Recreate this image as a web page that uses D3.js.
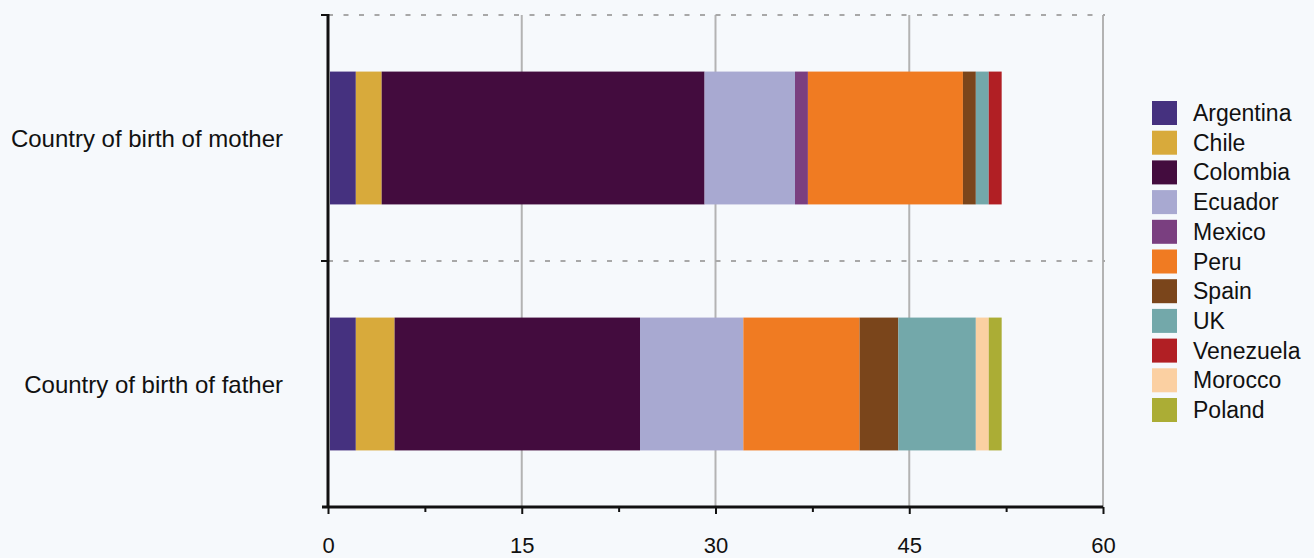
<!DOCTYPE html>
<html>
<head>
<meta charset="utf-8">
<script src="https://cdn.jsdelivr.net/npm/d3@7"></script>
<style>
  body { margin: 0; background: #f6f9fc; }
  text { font-family: "Liberation Sans", Arial, sans-serif; fill: #111; }
</style>
</head>
<body>
<script>
// data
var categories = ["Country of birth of mother", "Country of birth of father"]
var countries = ["Argentina", "Chile", "Colombia", "Ecuador", "Mexico", "Peru", "Spain", "UK", "Venezuela", "Morocco", "Poland"]
var motherValues = [2, 2, 25, 7, 1, 12, 1, 1, 1, 0, 0]
var fatherValues = [2, 3, 19, 8, 0, 9, 3, 6, 0, 1, 1]
var colours = ["#45317f", "#d8aa3b", "#430c3e", "#a8a9d1", "#7a3f80", "#f07b22", "#7a451b", "#73a8aa", "#b11f24", "#fbd0a2", "#abad35"]
var xTicks = [0, 15, 30, 45, 60]

var svg = d3.select("body").append("svg")
  .attr("width", 1314)
  .attr("height", 558)

var plotL = 328, plotR = 1103, plotT = 15, plotB = 507

var x = d3.scaleLinear().domain([0, 60]).range([plotL, plotR])
var y = d3.scaleBand().domain(categories).range([plotT, plotB])
  .paddingInner(0.46).paddingOuter(0.23)

// table for the stack
var table = categories.map(function(c, i) {
  var row = {cat: c}
  var vals = i === 0 ? motherValues : fatherValues
  countries.forEach(function(k, j) { row[k] = vals[j] })
  return row
})
var series = d3.stack().keys(countries)(table)

// vertical grid
svg.append("g").selectAll("line")
  .data(xTicks.slice(1))
  .enter().append("line")
  .attr("x1", function(d) { return x(d) })
  .attr("x2", function(d) { return x(d) })
  .attr("y1", plotT)
  .attr("y2", plotB)
  .style("stroke", "#b3b3b3")
  .style("stroke-width", 2)

// dotted category boundaries
var step = y.step()
var bounds = [plotT, plotT + step]
svg.append("g").selectAll("line")
  .data(bounds)
  .enter().append("line")
  .attr("x1", plotL)
  .attr("x2", plotR + 2)
  .attr("y1", function(d) { return d })
  .attr("y2", function(d) { return d })
  .style("stroke", "#a8a8a8")
  .style("stroke-width", 2)
  .style("stroke-dasharray", "5,10.5")

// bars
svg.append("g").selectAll("g")
  .data(series)
  .enter().append("g")
  .style("fill", function(d, i) { return colours[i] })
  .selectAll("rect")
  .data(function(d) { return d })
  .enter().append("rect")
  .attr("x", function(d) { return x(d[0]) + 2 })
  .attr("width", function(d) { return x(d[1]) - x(d[0]) })
  .attr("y", function(d) { return y(d.data.cat) })
  .attr("height", y.bandwidth())

// x axis: minor then major ticks
var minor = svg.append("g")
  .attr("transform", "translate(0," + plotB + ")")
  .call(d3.axisBottom(x).tickValues(d3.range(7.5, 60, 15)).tickSize(5).tickFormat(""))
minor.select(".domain").remove()
minor.selectAll("line").style("stroke", "#111").style("stroke-width", 2)

var xAxis = svg.append("g")
  .attr("transform", "translate(0," + plotB + ")")
  .call(d3.axisBottom(x).tickValues(xTicks).tickSize(7).tickSizeOuter(0).tickPadding(23))
xAxis.select(".domain").style("stroke", "#111").style("stroke-width", 3)
  .attr("d", "M" + (plotL - 6) + ",0H" + plotR)
xAxis.selectAll("line").style("stroke", "#111").style("stroke-width", 2)
xAxis.selectAll("text").style("font-size", "22px").style("fill", "#111")
  .style("font-family", "Liberation Sans, Arial, sans-serif")

// y axis
svg.append("line")
  .attr("x1", plotL).attr("x2", plotL)
  .attr("y1", plotT - 1).attr("y2", plotB)
  .style("stroke", "#111").style("stroke-width", 3)
svg.append("g").selectAll("line")
  .data(bounds)
  .enter().append("line")
  .attr("x1", plotL - 7).attr("x2", plotL)
  .attr("y1", function(d) { return d })
  .attr("y2", function(d) { return d })
  .style("stroke", "#111").style("stroke-width", 2)

svg.append("g").selectAll("text")
  .data(categories)
  .enter().append("text")
  .attr("x", 283)
  .attr("y", function(d) { return y(d) + y.bandwidth() / 2 + 9 })
  .attr("text-anchor", "end")
  .style("font-size", "24px")
  .text(function(d) { return d })

// legend
var legend = svg.append("g").selectAll("g")
  .data(countries)
  .enter().append("g")
  .attr("transform", function(d, i) { return "translate(1152," + (101 + i * 29.7) + ")" })
legend.append("rect")
  .attr("width", 25)
  .attr("height", 24)
  .style("fill", function(d, i) { return colours[i] })
legend.append("text")
  .attr("x", 41)
  .attr("y", 20)
  .style("font-size", "23px")
  .text(function(d) { return d })
</script>
</body>
</html>
